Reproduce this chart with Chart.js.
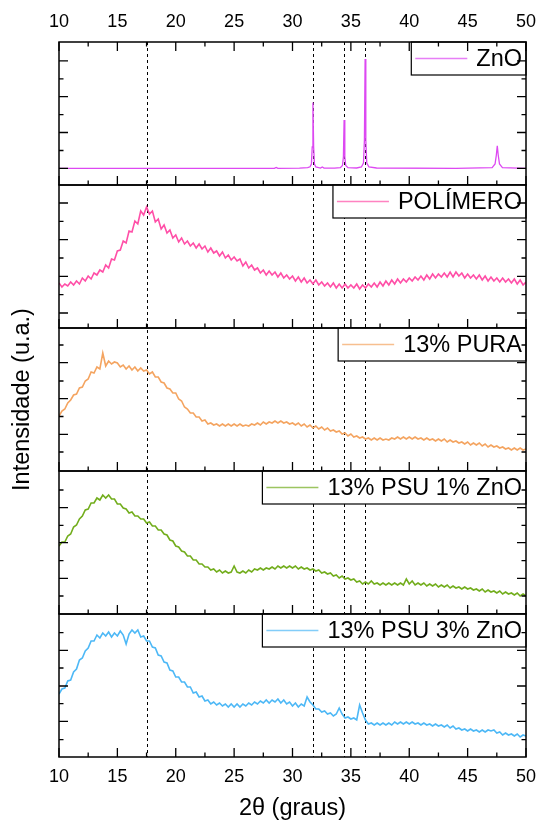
<!DOCTYPE html>
<html lang="pt-BR">
<head>
<meta charset="UTF-8">
<title>DRX - ZnO, polimero e membranas</title>
<script src="https://cdn.jsdelivr.net/npm/chart.js"></script>
<style>
    body { margin: 0; background: #fff; }
    canvas { display: block; }
</style>
</head>
<body>
<canvas id="difratograma" width="537" height="823"></canvas>
<script>
// eixo 2θ das membranas: de 10° a 50°, um ponto a cada 0,25°
const inicioAngulo = 10;
const passoAngulo = 0.25;

// ZnO puro: picos estreitos, por isso vai em pares angulo/intensidade
const znoAngulos = [10, 20, 28.45, 28.6, 28.75, 30.6, 31.3, 31.5, 31.62, 31.69,
    31.75, 31.81, 31.88, 32.0, 32.4, 32.55, 32.7, 33.6, 34.1, 34.28,
    34.36, 34.42, 34.48, 34.56, 34.75, 35.5, 35.9, 36.08, 36.16, 36.22,
    36.28, 36.36, 36.55, 37.2, 44, 47.1, 47.35, 47.46, 47.54, 47.62,
    47.73, 47.98, 50];
const znoIntensidade = [16.6, 16.6, 16.6, 17.6, 16.6, 16.8, 17.4, 18.2, 21, 38,
    82.6, 38, 21, 18, 16.9, 18, 16.9, 16.9, 17.4, 19.5,
    28, 65, 28, 19.5, 17.4, 17, 18, 22, 45, 126,
    45, 22, 18, 17, 16.6, 17.4, 21, 30, 39.3, 30,
    21, 17.4, 16.6];

const polimero = [
    45, 41, 44, 42, 46, 43, 47, 44, 50, 47,
    52, 49, 55, 53, 58, 56, 63, 60, 69, 68,
    77, 78, 87, 85, 97, 96, 107, 104, 117, 113,
    121, 114, 117, 106, 109, 99, 103, 95, 98, 90,
    93, 86, 90, 84, 87, 82, 85, 80, 84, 79,
    82, 76, 80, 75, 77, 72, 76, 70, 73, 68,
    71, 67, 69, 62, 66, 60, 63, 58, 60, 55,
    58, 53, 57, 53, 56, 51, 55, 50, 53, 49,
    52, 47, 51, 46, 50, 45, 48, 44, 48, 43,
    46, 42, 45, 41, 45, 40, 44, 40, 44, 40,
    43, 40, 44, 39, 43, 40, 44, 41, 45, 41,
    46, 42, 47, 43, 48, 44, 49, 45, 49, 46,
    50, 47, 51, 48, 52, 48, 53, 49, 54, 50,
    54, 51, 55, 51, 56, 51, 56, 52, 55, 50,
    54, 50, 53, 49, 53, 48, 52, 47, 51, 47,
    50, 46, 50, 46, 49, 45, 49, 44, 48, 43,
    46];

const pura13 = [
    55, 60, 62, 68, 71, 76, 77, 83, 84, 90,
    92, 99, 98, 104, 102, 118, 105, 110, 107, 109,
    108, 104, 106, 102, 105, 101, 104, 100, 103, 100,
    101, 97, 99, 94, 94, 89, 88, 83, 82, 78,
    78, 72, 70, 64, 62, 58, 58, 54, 54, 50,
    51, 47, 48, 46, 47, 45, 47, 45, 47, 45,
    47, 45, 47, 45, 46, 45, 47, 46, 48, 46,
    49, 47, 49, 48, 50, 48, 50, 48, 49, 47,
    48, 46, 48, 45, 47, 44, 46, 43, 45, 42,
    44, 41, 43, 40, 41, 39, 40, 37, 38, 35,
    37, 34, 35, 33, 34, 32, 33, 31, 33, 31,
    33, 31, 32, 31, 33, 32, 34, 32, 34, 32,
    34, 32, 34, 32, 33, 31, 33, 31, 32, 30,
    32, 30, 32, 29, 31, 29, 30, 28, 29, 27,
    29, 26, 28, 26, 28, 25, 27, 24, 26, 24,
    25, 23, 24, 22, 23, 21, 23, 21, 23, 21,
    22];

const psu1Zno = [
    68, 72, 72, 78, 80, 87, 89, 95, 98, 104,
    105, 111, 111, 116, 114, 119, 116, 119, 115, 115,
    110, 110, 106, 105, 101, 102, 98, 98, 95, 95,
    91, 92, 88, 88, 84, 84, 80, 79, 74, 73,
    68, 67, 63, 62, 58, 58, 54, 54, 50, 50,
    47, 47, 44, 45, 42, 44, 41, 43, 41, 42,
    48, 42, 41, 43, 41, 44, 42, 45, 44, 46,
    44, 46, 45, 47, 45, 48, 46, 48, 46, 48,
    46, 48, 45, 47, 45, 46, 44, 45, 43, 44,
    41, 42, 40, 41, 38, 39, 36, 38, 35, 36,
    34, 35, 32, 33, 30, 32, 30, 33, 30, 31,
    29, 31, 29, 31, 29, 31, 29, 31, 29, 35,
    30, 33, 29, 31, 29, 31, 28, 30, 28, 30,
    27, 29, 27, 29, 26, 28, 26, 27, 25, 27,
    25, 26, 24, 25, 23, 25, 22, 24, 22, 23,
    21, 23, 20, 22, 20, 21, 19, 21, 18, 20,
    18];

const psu3Zno = [
    63, 68, 69, 76, 77, 85, 88, 97, 99, 106,
    109, 116, 116, 122, 119, 124, 121, 125, 120, 124,
    121, 126, 122, 113, 123, 127, 124, 127, 120, 121,
    116, 116, 110, 109, 102, 101, 95, 94, 87, 86,
    80, 80, 75, 75, 70, 70, 64, 65, 60, 61,
    56, 57, 53, 55, 52, 54, 51, 53, 50, 53,
    50, 53, 50, 53, 51, 54, 52, 55, 53, 56,
    54, 57, 54, 57, 55, 58, 54, 57, 53, 55,
    51, 54, 50, 53, 51, 60, 55, 52, 48, 48,
    45, 46, 43, 44, 41, 43, 49, 43, 39, 40,
    38, 39, 37, 52, 44, 37, 33, 34, 32, 34,
    32, 34, 32, 34, 32, 35, 33, 35, 33, 35,
    33, 35, 33, 34, 32, 34, 32, 33, 31, 33,
    31, 32, 30, 32, 29, 31, 28, 29, 27, 28,
    26, 28, 26, 27, 25, 27, 25, 27, 26, 27,
    24, 25, 22, 24, 22, 23, 21, 23, 20, 22,
    21];

// linhas tracejadas: halo do polimero e picos do ZnO
const linhasReferencia = [17.57, 31.75, 34.42, 36.22];

// marcas do eixo 2θ (maiores a cada 5°)
const marcasX = [10, 12.5, 15, 17.5, 20, 22.5, 25, 27.5, 30, 32.5, 35, 37.5, 40, 42.5, 45, 47.5, 50];

// marcas de intensidade de cada painel (u.a.)
const marcasZnO = { principais: [16.6, 52.5, 88.3, 124.2], secundarias: [34.5, 70.4, 106.2] };
const marcasPolimero = { principais: [15, 51.7, 88.3, 125], secundarias: [33.3, 70, 106.7] };
const marcasPura = { principais: [36.7, 72.3, 108.3], secundarias: [19, 54.5, 90, 126] };
const marcasPsu1 = { principais: [35.7, 71.3, 106.3], secundarias: [18, 53.3, 88.7, 124] };
const marcasPsu3 = { principais: [35.7, 71, 106.7], secundarias: [17.3, 53.3, 89, 124.3] };

const fonte = '"Liberation Sans", Arial, sans-serif';
Chart.defaults.font.family = fonte;
Chart.defaults.color = '#000';

function comAngulo(valores) {
    return valores.map((v, i) => ({ x: inicioAngulo + i * passoAngulo, y: v }));
}

// do painel de cima para o de baixo
const paineis = [
    { id: 'yZnO', nome: 'ZnO', cor: '#dd48f2', marcas: marcasZnO,
      dados: znoAngulos.map((a, i) => ({ x: a, y: znoIntensidade[i] })) },
    { id: 'yPolimero', nome: 'POLÍMERO', cor: '#ff4fa7', marcas: marcasPolimero, dados: comAngulo(polimero) },
    { id: 'yPura', nome: '13% PURA', cor: '#f4a460', marcas: marcasPura, dados: comAngulo(pura13) },
    { id: 'yPsu1', nome: '13% PSU 1% ZnO', cor: '#72ad1c', marcas: marcasPsu1, dados: comAngulo(psu1Zno) },
    { id: 'yPsu3', nome: '13% PSU 3% ZnO', cor: '#4db8f6', marcas: marcasPsu3, dados: comAngulo(psu3Zno) }
];

// o rotulo "50" nao deve empurrar a area do grafico
function semFolgaLateral(s, altura) {
    s.height = altura;
    s.paddingLeft = 0;
    s.paddingRight = 0;
}

const escalas = {
    x: {
        type: 'linear', position: 'bottom', min: 10, max: 50,
        ticks: { stepSize: 5, font: { size: 18 }, padding: 9, maxRotation: 0, autoSkip: false },
        grid: { display: false, drawTicks: false },
        border: { display: false },
        title: { display: true, text: '2θ (graus)', font: { size: 23.5 }, padding: { top: 0, bottom: 0 } },
        afterFit: (s) => semFolgaLateral(s, 66)
    },
    xTopo: {
        type: 'linear', position: 'top', min: 10, max: 50,
        ticks: { stepSize: 5, font: { size: 18 }, padding: 9, maxRotation: 0, autoSkip: false },
        grid: { display: false, drawTicks: false },
        border: { display: false },
        afterFit: (s) => semFolgaLateral(s, 42)
    }
};

// a ultima escala da pilha fica no alto, entao vai de baixo para cima
paineis.slice().reverse().forEach(p => {
    escalas[p.id] = {
        type: 'linear', position: 'left', stack: 'paineis', stackWeight: 1,
        min: 0, max: 143,
        ticks: { display: false },
        grid: { display: false },
        border: { display: false },
        title: {
            display: p.id === 'yPura', text: 'Intensidade (u.a.)',
            font: { size: 23.5 }, padding: { top: 8 }
        },
        afterFit: (s) => { s.width = 59; }
    };
});

const molduras = {
    id: 'molduras',
    beforeDatasetsDraw(chart) {
        const { ctx, chartArea } = chart;
        const eixoX = chart.scales.x;
        ctx.save();
        ctx.strokeStyle = '#000';
        ctx.lineWidth = 1;
        ctx.setLineDash([3, 3]);
        linhasReferencia.forEach(a => {
            const px = Math.round(eixoX.getPixelForValue(a)) + 0.5;
            ctx.beginPath();
            ctx.moveTo(px, chartArea.top);
            ctx.lineTo(px, chartArea.bottom);
            ctx.stroke();
        });
        ctx.restore();
    },
    afterDatasetsDraw(chart) {
        const { ctx, chartArea } = chart;
        const eixoX = chart.scales.x;
        const esq = chartArea.left, dir = chartArea.right;
        ctx.save();
        ctx.setLineDash([]);

        paineis.forEach((p, idx) => {
            const eixoY = chart.scales[p.id];
            const topo = eixoY.top, base = eixoY.bottom;

            // legenda do painel
            ctx.font = '23.5px ' + fonte;
            const largura = ctx.measureText(p.nome).width;
            const caixaEsq = dir - (4 + 52 + 9 + largura + 4);
            const caixaAlt = 33;
            ctx.fillStyle = '#fff';
            ctx.fillRect(caixaEsq, topo, dir - caixaEsq, caixaAlt);
            ctx.strokeStyle = '#000';
            ctx.lineWidth = 1.2;
            ctx.strokeRect(caixaEsq, topo, dir - caixaEsq, caixaAlt);
            ctx.strokeStyle = p.cor;
            ctx.globalAlpha = 0.7;
            ctx.lineWidth = 1.5;
            ctx.beginPath();
            ctx.moveTo(caixaEsq + 4, topo + caixaAlt / 2);
            ctx.lineTo(caixaEsq + 56, topo + caixaAlt / 2);
            ctx.stroke();
            ctx.globalAlpha = 1;
            ctx.fillStyle = '#000';
            ctx.textAlign = 'left';
            ctx.textBaseline = 'middle';
            ctx.fillText(p.nome, caixaEsq + 65, topo + caixaAlt / 2 + 1);

            // marcas para dentro
            ctx.strokeStyle = '#000';
            ctx.lineWidth = 1.3;
            ctx.beginPath();
            const marcaY = (v, tam) => {
                const py = eixoY.getPixelForValue(v);
                ctx.moveTo(esq, py); ctx.lineTo(esq + tam, py);
                ctx.moveTo(dir, py); ctx.lineTo(dir - tam, py);
            };
            p.marcas.principais.forEach(v => marcaY(v, 9));
            p.marcas.secundarias.forEach(v => marcaY(v, 4.5));
            marcasX.forEach(v => {
                const px = eixoX.getPixelForValue(v);
                const tam = v % 5 === 0 ? 9 : 4.5;
                ctx.moveTo(px, base); ctx.lineTo(px, base - tam);
                if (idx === 0) {
                    ctx.moveTo(px, topo); ctx.lineTo(px, topo + tam);
                }
            });
            ctx.stroke();

            ctx.lineWidth = 1.5;
            ctx.strokeRect(esq, topo, dir - esq, base - topo);
        });
        ctx.restore();
    }
};

new Chart(document.getElementById('difratograma'), {
    type: 'line',
    data: {
        datasets: paineis.map(p => ({
            label: p.nome,
            data: p.dados,
            yAxisID: p.id,
            borderColor: p.cor,
            borderWidth: p.id === 'yZnO' ? 1.3 : 1.6,
            pointRadius: 0,
            tension: 0,
            fill: false
        }))
    },
    options: {
        responsive: false,
        animation: false,
        layout: { padding: { left: 0, right: 11, top: 0, bottom: 0 } },
        plugins: { legend: { display: false }, tooltip: { enabled: false } },
        scales: escalas
    },
    plugins: [molduras]
});
</script>
</body>
</html>
